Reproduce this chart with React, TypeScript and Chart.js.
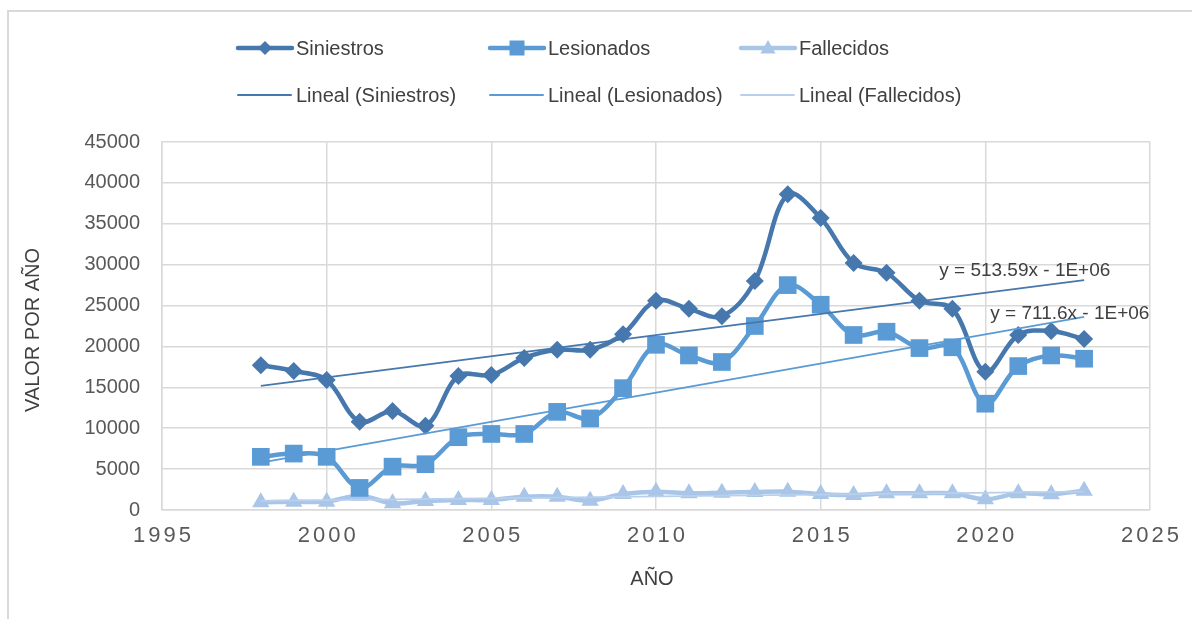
import { useEffect, useRef } from "react";
import { Chart, registerables } from "chart.js";

Chart.register(...registerables);

// ---- Data ----
const years = [1998, 1999, 2000, 2001, 2002, 2003, 2004, 2005, 2006, 2007, 2008, 2009, 2010, 2011, 2012, 2013, 2014, 2015, 2016, 2017, 2018, 2019, 2020, 2021, 2022, 2023];
const siniestros = [17700, 17000, 15900, 10800, 12100, 10300, 16400, 16500, 18600, 19600, 19600, 21500, 25600, 24600, 23700, 28000, 38600, 35700, 30200, 29000, 25600, 24600, 16900, 21400, 21900, 20900];
const lesionados = [6500, 6900, 6500, 2700, 5300, 5600, 8900, 9300, 9300, 12000, 11200, 14900, 20200, 18900, 18100, 22500, 27500, 25100, 21400, 21800, 19800, 19900, 13000, 17600, 18900, 18500];
const fallecidos = [950, 1020, 1020, 1750, 820, 1100, 1220, 1220, 1630, 1630, 1140, 1960, 2240, 2040, 2120, 2200, 2240, 1960, 1830, 2040, 2040, 2040, 1300, 2040, 1920, 2360];

const seriesNames = ["Siniestros", "Lesionados", "Fallecidos"];
const trendNames = ["Lineal (Siniestros)", "Lineal (Lesionados)", "Lineal (Fallecidos)"];
const seriesColors = ["#4677AD", "#5B9BD5", "#A9C5E8"];
const trendColors = ["#4677AD", "#5B9BD5", "#B9D0EC"];
const markerStyles = ["rectRot", "rect", "triangle"];
const markerRadius = [9, 12.5, 10];

const xTickValues = [1995, 2000, 2005, 2010, 2015, 2020, 2025];
const yMin = 0;
const yMax = 45000;
const yStep = 5000;

const equationTexts = ["y = 513.59x - 1E+06", "y = 711.6x - 1E+06"];
// anchors for the equation labels (data coordinates: year, value)
const equationAnchors = [
  [2018.6, 29300],
  [2020.15, 24050],
];

const xTitle = "AÑO";
const yTitle = "VALOR POR AÑO";

const FONT = "'Liberation Sans', Arial, sans-serif";

function linearFit(xs: number[], ys: number[]) {
  const n = xs.length;
  const mx = xs.reduce((a, b) => a + b, 0) / n;
  const my = ys.reduce((a, b) => a + b, 0) / n;
  let sxy = 0;
  let sxx = 0;
  for (let i = 0; i < n; i++) {
    sxy += (xs[i] - mx) * (ys[i] - my);
    sxx += (xs[i] - mx) * (xs[i] - mx);
  }
  const b = sxy / sxx;
  const a = my - b * mx;
  const x0 = xs[0];
  const x1 = xs[n - 1];
  return [
    { x: x0, y: a + b * x0 },
    { x: x1, y: a + b * x1 },
  ];
}

function drawMarker(ctx: CanvasRenderingContext2D, style: string, x: number, y: number, color: string) {
  ctx.save();
  ctx.fillStyle = color;
  ctx.beginPath();
  if (style === "rectRot") {
    const r = 7;
    ctx.moveTo(x, y - r);
    ctx.lineTo(x + r, y);
    ctx.lineTo(x, y + r);
    ctx.lineTo(x - r, y);
  } else if (style === "rect") {
    const s = 7.5;
    ctx.rect(x - s, y - s, 2 * s, 2 * s);
  } else {
    ctx.moveTo(x, y - 8);
    ctx.lineTo(x + 7.5, y + 5.5);
    ctx.lineTo(x - 7.5, y + 5.5);
  }
  ctx.closePath();
  ctx.fill();
  ctx.restore();
}

const customPlugin = {
  id: "customDecor",
  beforeDraw(chart: any) {
    const ctx = chart.ctx as CanvasRenderingContext2D;
    ctx.save();
    ctx.fillStyle = "#ffffff";
    ctx.fillRect(0, 0, chart.width, chart.height);
    // outer frame (top and left edges visible)
    ctx.strokeStyle = "#d9d9d9";
    ctx.lineWidth = 2;
    ctx.beginPath();
    ctx.moveTo(8, chart.height + 5);
    ctx.lineTo(8, 11);
    ctx.lineTo(chart.width + 5, 11);
    ctx.stroke();
    ctx.restore();
  },
  afterDraw(chart: any) {
    const ctx = chart.ctx as CanvasRenderingContext2D;
    const xs = chart.scales.x;
    const ys = chart.scales.y;

    // x tick labels (spaced)
    ctx.save();
    ctx.font = `22px ${FONT}`;
    ctx.fillStyle = "#595959";
    ctx.textAlign = "center";
    ctx.textBaseline = "middle";
    try {
      (ctx as any).letterSpacing = "3px";
    } catch (e) {}
    xTickValues.forEach((v) => {
      ctx.fillText(String(v), xs.getPixelForValue(v) + 1.5, 536);
    });
    ctx.restore();

    // axis titles
    ctx.save();
    ctx.font = `20px ${FONT}`;
    ctx.fillStyle = "#404040";
    ctx.textAlign = "center";
    ctx.textBaseline = "middle";
    ctx.fillText(xTitle, (xs.left + xs.right) / 2 - 4, 579);
    ctx.translate(33, 330);
    ctx.rotate(-Math.PI / 2);
    ctx.fillText(yTitle, 0, 0);
    ctx.restore();

    // equation labels
    ctx.save();
    ctx.font = `19px ${FONT}`;
    ctx.fillStyle = "#404040";
    ctx.textAlign = "left";
    ctx.textBaseline = "middle";
    equationTexts.forEach((t, i) => {
      const [ax, ay] = equationAnchors[i];
      ctx.fillText(t, xs.getPixelForValue(ax), ys.getPixelForValue(ay));
    });
    ctx.restore();

    // legend
    const cols = [238, 490, 741];
    const rows = [48, 95];
    ctx.save();
    ctx.font = `20px ${FONT}`;
    ctx.fillStyle = "#404040";
    ctx.textBaseline = "middle";
    ctx.textAlign = "left";
    for (let i = 0; i < 3; i++) {
      const x = cols[i];
      // series
      let y = rows[0];
      ctx.strokeStyle = seriesColors[i];
      ctx.lineWidth = 4.5;
      ctx.lineCap = "round";
      ctx.beginPath();
      ctx.moveTo(x, y);
      ctx.lineTo(x + 54, y);
      ctx.stroke();
      drawMarker(ctx, markerStyles[i], x + 27, y, seriesColors[i]);
      ctx.fillStyle = "#404040";
      ctx.fillText(seriesNames[i], x + 58, y + 1);
      // trend
      y = rows[1];
      ctx.strokeStyle = trendColors[i];
      ctx.lineWidth = 2;
      ctx.beginPath();
      ctx.moveTo(x, y);
      ctx.lineTo(x + 53, y);
      ctx.stroke();
      ctx.fillText(trendNames[i], x + 58, y + 1);
    }
    ctx.restore();
  },
};

export default function App() {
  const canvasRef = useRef<HTMLCanvasElement | null>(null);

  useEffect(() => {
    document.body.style.margin = "0";
    const canvas = canvasRef.current;
    if (!canvas) return;

    const mk = (arr: number[]) => years.map((y, i) => ({ x: y, y: arr[i] }));
    const seriesData = [siniestros, lesionados, fallecidos];

    const trendSets = seriesData.map((d, i) => ({
      label: trendNames[i],
      data: linearFit(years, d),
      borderColor: trendColors[i],
      backgroundColor: trendColors[i],
      borderWidth: 1.8,
      pointRadius: 0,
      tension: 0,
      fill: false,
    }));

    const mainSets = seriesData.map((d, i) => ({
      label: seriesNames[i],
      data: mk(d),
      borderColor: seriesColors[i],
      backgroundColor: seriesColors[i],
      borderWidth: 4.5,
      pointStyle: markerStyles[i],
      pointRadius: markerRadius[i],
      pointHoverRadius: markerRadius[i],
      pointBorderWidth: 0,
      tension: 0.35,
      fill: false,
    }));

    const chart = new Chart(canvas, {
      type: "line",
      data: { datasets: [...trendSets, ...mainSets] as any },
      options: {
        animation: false,
        responsive: false,
        maintainAspectRatio: false,
        layout: { padding: { top: 142, right: 42, left: 0, bottom: 0 } },
        plugins: {
          legend: { display: false },
          tooltip: { enabled: false },
          title: { display: false },
        },
        scales: {
          x: {
            type: "linear",
            min: 1995,
            max: 2025,
            afterFit: (s: any) => {
              s.height = 109;
            },
            ticks: { display: false, stepSize: 5 },
            grid: { color: "#d9d9d9", lineWidth: 1.5, drawTicks: false },
            border: { color: "#d9d9d9", width: 1.5 },
          },
          y: {
            min: yMin,
            max: yMax,
            afterFit: (s: any) => {
              s.width = 162;
            },
            ticks: {
              stepSize: yStep,
              padding: 22,
              color: "#595959",
              font: { family: FONT, size: 20 },
              callback: (v: any) => String(v),
            },
            grid: { color: "#d9d9d9", lineWidth: 1.5, drawTicks: false },
            border: { color: "#d9d9d9", width: 1.5 },
          },
        },
      },
      plugins: [customPlugin],
    });

    return () => chart.destroy();
  }, []);

  return (
    <div style={{ width: 1192, height: 619, position: "relative" }}>
      <canvas ref={canvasRef} width={1192} height={619} style={{ display: "block" }} />
    </div>
  );
}
